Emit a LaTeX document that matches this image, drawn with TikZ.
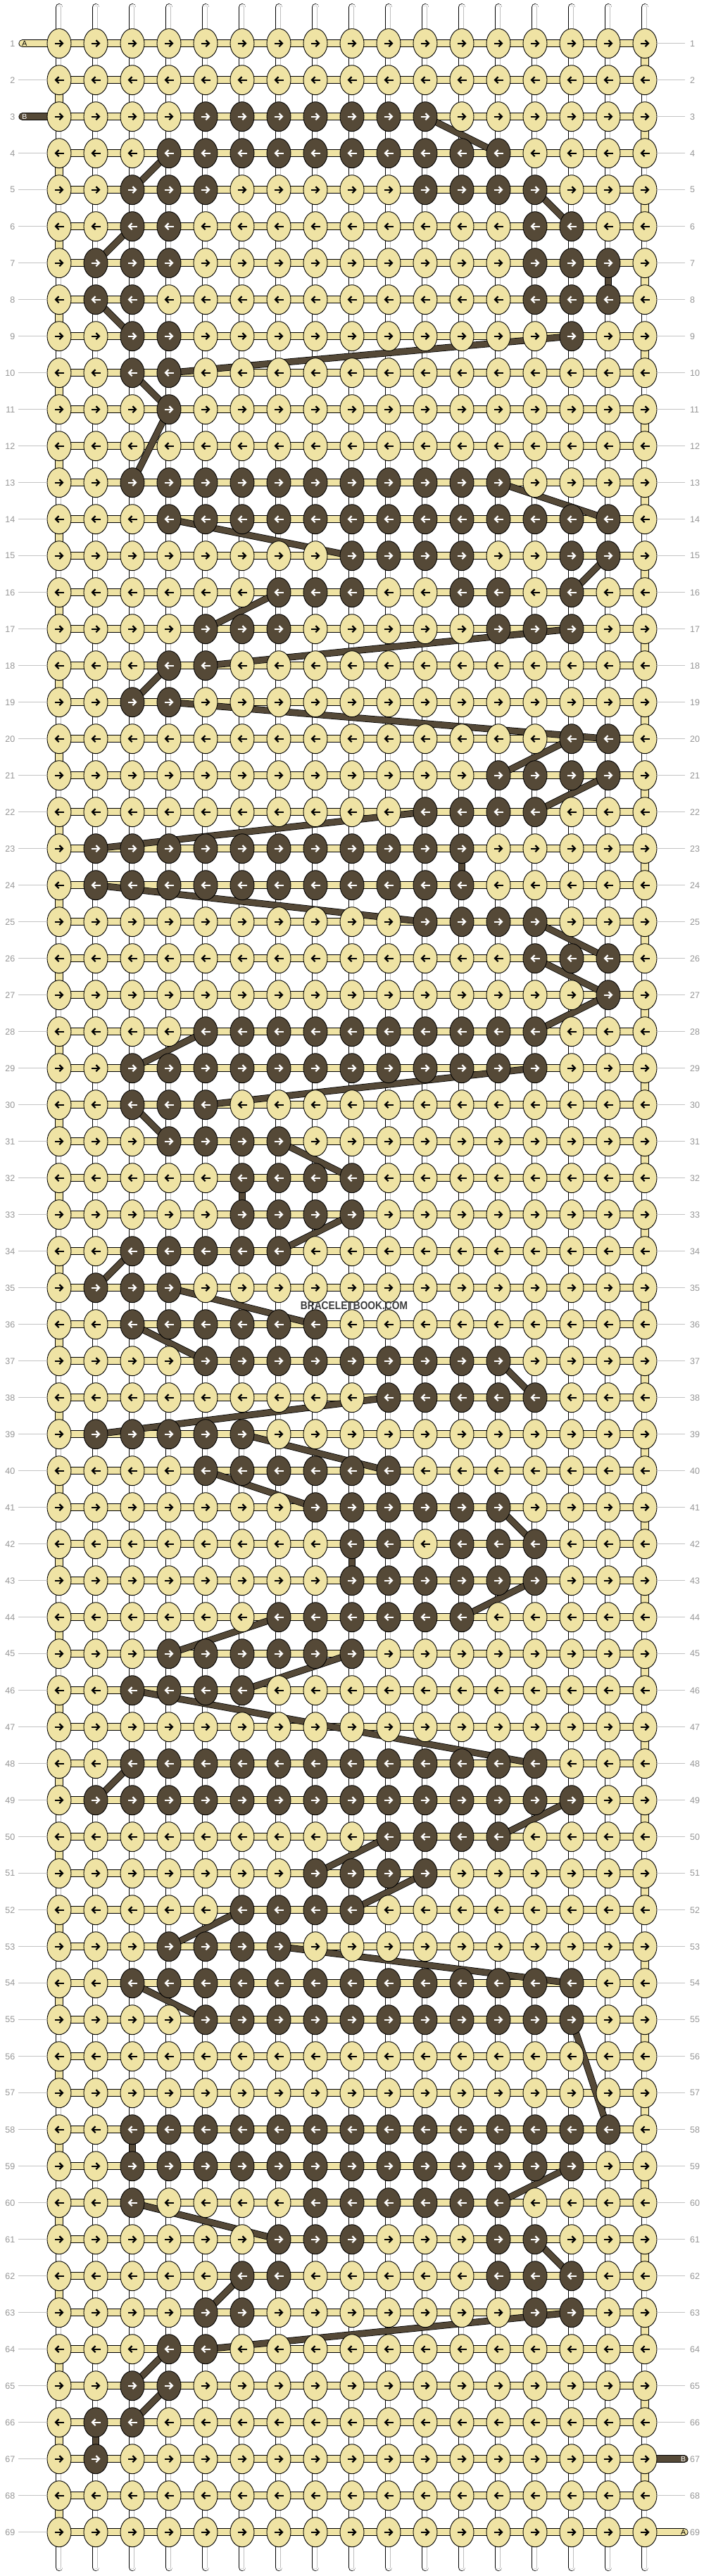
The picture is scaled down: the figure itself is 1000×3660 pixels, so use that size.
\documentclass[tikz,border=0pt]{standalone}
\usepackage{fontspec}
\setmainfont{Liberation Sans}
\usetikzlibrary{shapes.geometric,arrows.meta}

\definecolor{yarnA}{RGB}{239,227,164}
\definecolor{yarnB}{RGB}{85,73,55}
\definecolor{numgray}{RGB}{150,150,150}
\definecolor{rulegray}{RGB}{195,195,195}
\definecolor{markgray}{RGB}{60,60,60}

\pgfdeclarelayer{strings}
\pgfdeclarelayer{strandB}
\pgfsetlayers{strings,strandB,main}

\tikzset{
  knot/.style={ellipse,draw=black,line width=0.9pt,fill=#1,minimum width=34pt,minimum height=42pt,inner sep=0pt},
  warp/.style={draw=black,line width=0.8pt,double=white,double distance=9pt,line cap=round},
  warpinner/.style={draw=black!25,line width=0.5pt,double=white,double distance=4pt,line cap=round},
  rowbar/.style={draw=black,line width=0.8pt,double=yarnA,double distance=9.5pt},
  tailB/.style={draw=black,line width=0.8pt,double=yarnB,double distance=9.5pt},
  darkbar/.style={draw=black,line width=0.8pt,double=yarnB,double distance=8pt},
  knotarrow/.style={line width=2.2pt,-{Straight Barb[length=4.5pt,width=9pt]}},
  rownum/.style={text=numgray,font=\fontsize{12.5}{14}\selectfont,inner sep=0pt},
  rowrule/.style={draw=rulegray,line width=0.9pt},
  tailtext/.style={font=\fontsize{10.5}{12}\selectfont,inner sep=0pt}
}

\begin{document}
\begin{tikzpicture}[x=1pt,y=-1pt]
\useasboundingbox (0,0) rectangle (1000,3660);

% dark knots: row/first/last
\foreach \r/\a/\b in {3/4/10, 4/3/12, 5/2/4, 5/10/13, 6/2/3, 6/13/14, 7/1/3, 7/13/15,
  8/1/2, 8/13/15, 9/2/3, 9/14/14, 10/2/3, 11/3/3, 13/2/12, 14/3/15, 15/8/11, 15/14/15,
  16/6/8, 16/11/12, 16/14/14, 17/4/6, 17/12/14, 18/3/4, 19/2/3, 20/14/15, 21/12/15,
  22/10/13, 23/1/11, 24/1/11, 25/10/13, 26/13/15, 27/15/15, 28/4/13, 29/2/13, 30/2/4,
  31/3/6, 32/5/8, 33/5/8, 34/2/6, 35/1/3, 36/2/7, 37/4/12, 38/9/13, 39/1/5, 40/4/9,
  41/7/12, 42/8/9, 42/11/13, 43/8/13, 44/6/11, 45/3/8, 46/2/5, 48/2/13, 49/1/14,
  50/9/12, 51/7/10, 52/5/8, 53/3/6, 54/2/14, 55/4/14, 58/2/15, 59/2/14, 60/2/2,
  60/7/12, 61/6/8, 61/12/13, 62/5/6, 62/12/14, 63/4/5, 63/13/14, 64/3/4, 65/2/3,
  66/1/2, 67/1/1}{
  \foreach \c in {\a,...,\b}{\expandafter\gdef\csname dk-\r-\c\endcsname{}}
}

% knots
\foreach \r in {1,...,69}{
  \foreach \c in {0,...,16}{
    \pgfmathsetmacro\kx{84+52*\c}
    \pgfmathsetmacro\ky{61.7+52*(\r-1)}
    \def\kfill{yarnA}\def\acol{black}
    \ifcsname dk-\r-\c\endcsname\def\kfill{yarnB}\def\acol{white}\fi
    \node[knot=\kfill] (k-\r-\c) at (\kx,\ky) {};
    \ifodd\r\relax
      \draw[knotarrow,draw=\acol] (\kx-6.5,\ky) -- (\kx+6.5,\ky);
    \else
      \draw[knotarrow,draw=\acol] (\kx+6.5,\ky) -- (\kx-6.5,\ky);
    \fi
  }
}

\begin{pgfonlayer}{strings}
\fill[white] (0,0) rectangle (1000,3660);
% warps
\foreach \c in {0,...,16}{
  \pgfmathsetmacro\kx{84+52*\c}
  \coordinate (wt-\c) at (\kx,10.3);
  \coordinate (wb-\c) at (\kx,3647.7);
  \draw[warp] (wt-\c) -- (wb-\c);
  \draw[warpinner] (wt-\c) -- (wb-\c);
}
% string A turning at the edges
\foreach \r in {1,3,...,67}{
  \pgfmathtruncatemacro\s{\r+1}
  \draw[rowbar] (k-\r-16.center) -- (k-\s-16.center);
}
\foreach \r in {2,4,...,68}{
  \pgfmathtruncatemacro\s{\r+1}
  \draw[rowbar] (k-\r-0.center) -- (k-\s-0.center);
}
% rows
\foreach \r in {1,...,69}{
  \draw[rowbar] (k-\r-0.center) -- (k-\r-16.center);
}
% tails
\coordinate (tA-in) at (32,61.7);
\coordinate (tB-in) at (32,165.7);
\coordinate (tB-out) at (972,3493.7);
\coordinate (tA-out) at (972,3597.7);
\draw[rowbar,line cap=round] (tA-in) -- (k-1-0.center);
\draw[tailB,line cap=round] (tB-in) -- (k-3-0.center);
\draw[tailB,line cap=round] (k-67-16.center) -- (tB-out);
\draw[rowbar,line cap=round] (k-69-16.center) -- (tA-out);
\end{pgfonlayer}

% string B between rows
\begin{pgfonlayer}{strandB}
\foreach \ra/\ca/\rb/\cb in {3/10/4/12, 4/3/5/2, 5/13/6/14, 6/2/7/1, 7/15/8/15, 8/1/9/2,
  9/14/10/3, 10/2/11/3, 11/3/13/2, 13/12/14/15, 14/3/15/8, 15/15/16/14, 16/6/17/4,
  17/14/18/4, 18/3/19/2, 19/3/20/15, 20/14/21/12, 21/15/22/13, 22/10/23/1, 23/11/24/11,
  24/1/25/10, 25/13/26/15, 26/13/27/15, 27/15/28/13, 28/4/29/2, 29/13/30/4, 30/2/31/3,
  31/6/32/8, 32/5/33/5, 33/8/34/6, 34/2/35/1, 35/3/36/7, 36/2/37/4, 37/12/38/13,
  38/9/39/1, 39/5/40/9, 40/4/41/7, 41/12/42/13, 42/8/43/8, 43/13/44/11, 44/6/45/3,
  45/8/46/5, 46/2/48/13, 48/2/49/1, 49/14/50/12, 50/9/51/7, 51/10/52/8, 52/5/53/3,
  53/6/54/14, 54/2/55/4, 55/14/58/15, 58/2/59/2, 59/14/60/12, 60/2/61/6, 61/13/62/14,
  62/5/63/4, 63/14/64/4, 64/3/65/2, 65/3/66/2, 66/1/67/1}{
  \draw[darkbar] (k-\ra-\ca.center) -- (k-\rb-\cb.center);
}
\end{pgfonlayer}

% tail letters
\node[tailtext] (lA-in) at (35,61.7) {A};
\node[tailtext,text=white] (lB-in) at (35,165.7) {B};
\node[tailtext,text=white] (lB-out) at (970.5,3493.7) {B};
\node[tailtext] (lA-out) at (970.5,3597.7) {A};

% row numbers
\foreach \r in {1,...,69}{
  \pgfmathsetmacro\ky{61.7+52*(\r-1)}
  \node[rownum,anchor=east] (nl-\r) at (21.5,\ky) {\r};
  \node[rownum,anchor=west] (nr-\r) at (980,\ky) {\r};
}
\foreach \r in {2,4,5,...,69}{
  \draw[rowrule] ([xshift=4.5pt]nl-\r.east) -- (k-\r-0.west);
}
\foreach \r in {1,...,66,68}{
  \draw[rowrule] (k-\r-16.east) -- ([xshift=-7pt]nr-\r.west);
}

\node[font=\bfseries\fontsize{16}{18}\selectfont,text=markgray,xscale=0.86,inner sep=0pt] (mark) at (503,1855) {BRACELETBOOK.COM};
\end{tikzpicture}
\end{document}
